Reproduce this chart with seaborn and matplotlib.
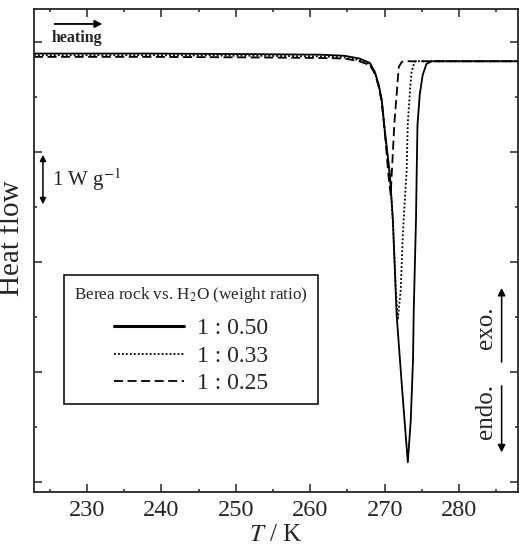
import pandas as pd
import matplotlib
matplotlib.use("Agg")
import matplotlib.pyplot as plt
import seaborn as sns
from matplotlib.lines import Line2D

# DSC traces: temperature (K) and heat flow (W/g, offset)
t_050 = [222.9, 238.5, 251.9, 261.3, 264.6, 266.6, 268.0, 268.7, 269.2, 269.6,
         270.0, 270.7, 271.1, 271.6, 272.3, 273.1, 273.5, 273.8, 273.9, 274.2,
         274.3, 274.4, 274.7, 275.1, 275.6, 276.3, 287.9]
q_050 = [7.79, 7.79, 7.78, 7.77, 7.75, 7.70, 7.62, 7.45, 7.22, 6.95,
         6.40, 5.58, 4.76, 3.04, 1.76, 0.36, 1.13, 2.22, 3.13, 4.76,
         5.67, 6.49, 7.04, 7.40, 7.60, 7.65, 7.65]

t_033 = [222.9, 238.5, 251.9, 261.3, 264.6, 266.6, 268.0, 268.7, 269.2, 269.6,
         270.0, 270.7, 271.1, 271.5, 271.75, 272.15, 272.4, 272.7, 272.95, 273.1,
         273.4, 273.6, 274.0, 274.4, 287.9]
q_033 = [7.76, 7.76, 7.75, 7.74, 7.72, 7.67, 7.60, 7.43, 7.20, 6.93,
         6.38, 5.56, 4.72, 3.49, 2.95, 3.49, 4.40, 5.13, 5.67, 6.53,
         7.13, 7.45, 7.64, 7.65, 7.65]

t_025 = [222.9, 238.5, 251.9, 261.3, 264.6, 266.6, 268.0, 268.7, 269.2, 269.6,
         270.0, 270.5, 270.8, 270.95, 271.3, 271.6, 271.75, 271.9, 272.3, 272.8,
         287.9]
q_025 = [7.73, 7.73, 7.72, 7.71, 7.70, 7.65, 7.58, 7.42, 7.18, 6.91,
         6.38, 5.58, 5.22, 5.62, 6.53, 7.04, 7.31, 7.55, 7.64, 7.65,
         7.65]

ratios = ["1 : 0.50", "1 : 0.33", "1 : 0.25"]

sns.set_style("ticks")
plt.rcParams["font.family"] = ["Liberation Serif", "DejaVu Serif"]
plt.rcParams["mathtext.fontset"] = "stix"

fig = plt.figure(figsize=(5.19, 5.57), dpi=100)
ax = fig.add_axes([34 / 519, 65 / 557, 484 / 519, 483 / 557])

curves = [
    (t_050, q_050, None),
    (t_033, q_033, (0, (1.0, 1.2))),
    (t_025, q_025, (0, (5.0, 2.5))),
]
handles = []
for (t, q, dash), name in zip(curves, ratios):
    df = pd.DataFrame({"T": t, "q": q})
    sns.lineplot(data=df, x="T", y="q", ax=ax, color="black", lw=1.3,
                 sort=False, estimator=None)
    if dash is not None:
        ax.lines[-1].set_linestyle(dash)
    handles.append(Line2D([], [], color="black", lw=2.2 if dash is None else 1.3,
                          linestyle=dash if dash else "-", label=name))

ax.set_xlim(222.9, 287.9)
ax.set_ylim(-0.18, 8.6)
ax.set_xticks([230, 240, 250, 260, 270, 280])
ax.set_xticks([225, 235, 245, 255, 265, 275, 285], minor=True)
ax.set_yticks([0, 2, 4, 6, 8])
ax.set_yticks([1, 3, 5, 7], minor=True)
ax.set_yticklabels([])
ax.tick_params(direction="in", top=True, right=True, which="both", width=1.1)
ax.tick_params(which="major", length=5.5, labelsize=17.5, pad=6)
ax.tick_params(which="minor", length=2.5)
for sp in ax.spines.values():
    sp.set_linewidth(1.3)

ax.set_xlabel("$T$ / K", fontsize=18, labelpad=2)
ax.set_ylabel("")
fig.text(12 / 519, 1 - 238 / 557, "Heat flow", rotation=90, fontsize=21,
         ha="center", va="center")

# heating direction
ax.annotate("", xy=(0.147, 0.969), xytext=(0.037, 0.969), xycoords="axes fraction",
            arrowprops=dict(arrowstyle="-|>", lw=1.3, color="black", mutation_scale=11))
ax.text(0.037, 0.94, "heating", transform=ax.transAxes, fontsize=11.5,
        fontweight="bold", ha="left", va="center")

# scale bar 1 W/g
ax.annotate("", xy=(224.1, 6.0), xytext=(224.1, 5.0),
            arrowprops=dict(arrowstyle="<|-|>", lw=1.1, color="black", mutation_scale=9))
ax.text(225.3, 5.5, "1 W g$^{-1}$", fontsize=15, ha="left", va="center")

# exo / endo
ax.annotate("", xy=(285.7, 3.58), xytext=(285.7, 2.13),
            arrowprops=dict(arrowstyle="-|>", lw=1.1, color="black", mutation_scale=11))
ax.annotate("", xy=(285.7, 0.49), xytext=(285.7, 1.80),
            arrowprops=dict(arrowstyle="-|>", lw=1.1, color="black", mutation_scale=11))
ax.text(283.6, 2.80, "exo.", rotation=90, fontsize=18, ha="center", va="center")
ax.text(283.6, 1.29, "endo.", rotation=90, fontsize=18, ha="center", va="center")

leg = ax.legend(handles=handles, loc="upper left", bbox_to_anchor=(0.062, 0.449),
                title="Berea rock vs. H$_2$O (weight ratio)", fontsize=17,
                title_fontsize=12.3, frameon=True, fancybox=False, framealpha=1,
                edgecolor="black", handlelength=2.97, handletextpad=0.55,
                labelspacing=0.25, borderpad=0.42, borderaxespad=0)
leg._legend_box.sep = 0.25 * 17 + 5.0
leg.get_frame().set_linewidth(1.1)

fig.savefig("out.png", dpi=100)
